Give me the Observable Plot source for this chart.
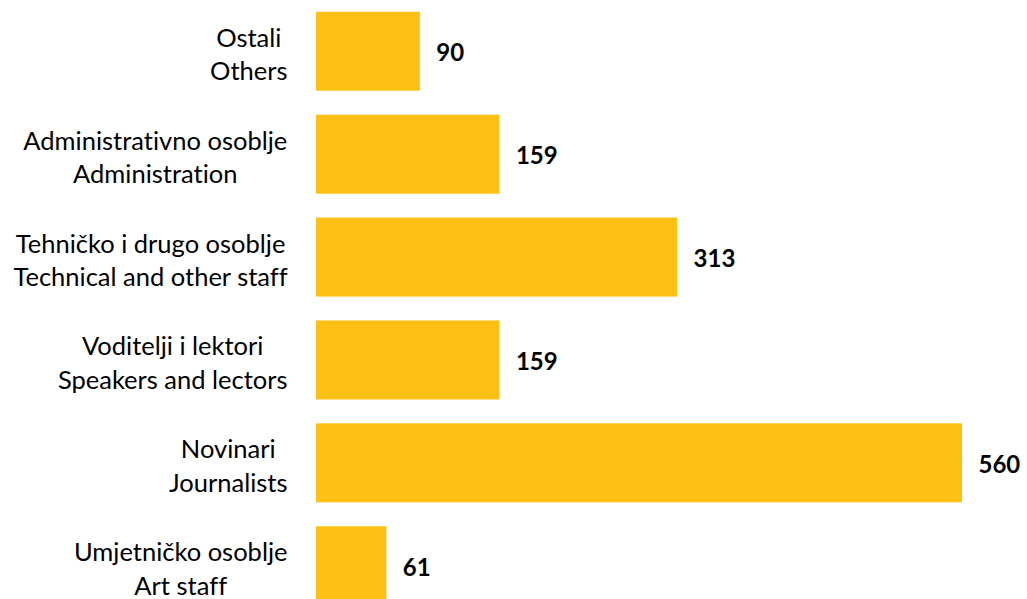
<!DOCTYPE html>
<html>
<head>
<meta charset="utf-8">
<script src="https://cdn.jsdelivr.net/npm/d3@7"></script>
<script src="https://cdn.jsdelivr.net/npm/@observablehq/plot@0.6"></script>
<style>
  html, body { margin: 0; padding: 0; background: #fff; overflow: hidden; }
  #chart svg { display: block; font-variant-ligatures: none; }
</style>
</head>
<body>
<div id="chart"></div>
<script>
const categories = [
  "Ostali\nOthers",
  "Administrativno osoblje\nAdministration",
  "Tehničko i drugo osoblje\nTechnical and other staff",
  "Voditelji i lektori\nSpeakers and lectors",
  "Novinari\nJournalists",
  "Umjetničko osoblje\nArt staff"
];
const values = [90, 159, 313, 159, 560, 61];

const data = categories.map((c, i) => ({category: c, value: values[i]}));

const FONT = "Lato, Carlito, Calibri, sans-serif";
const labelSize = 25.5;
const ctx = document.createElement("canvas").getContext("2d");
ctx.font = `${labelSize}px ${FONT}`;
function blockWidth(s) {
  return d3.max(s.split("\n"), line => ctx.measureText(line).width);
}
const gap = 29;

const labelMarks = data.map(d => Plot.text([d], {
  y: "category",
  text: "category",
  frameAnchor: "left",
  textAnchor: "middle",
  lineAnchor: "middle",
  lineHeight: 1.31,
  dx: -(gap + blockWidth(d.category) / 2),
  dy: 1,
  fontSize: labelSize,
  fill: "#000"
}));

const chart = Plot.plot({
  width: 1027,
  height: 617,
  marginLeft: 316,
  marginRight: 65,
  marginTop: 0,
  marginBottom: 0,
  style: {fontFamily: FONT, background: "#fff"},
  x: {domain: [0, 560], axis: null},
  y: {domain: categories, paddingInner: 0.232, paddingOuter: 0.114, round: false, axis: null},
  marks: [
    Plot.barX(data, {y: "category", x: "value", fill: "#FEC014"}),
    Plot.text(data, {
      y: "category", x: "value", text: d => String(d.value),
      textAnchor: "start", dx: 16, dy: 2,
      fontSize: 24, fontWeight: "bold", fill: "#000"
    }),
    ...labelMarks
  ]
});
document.getElementById("chart").appendChild(chart);
</script>
</body>
</html>
